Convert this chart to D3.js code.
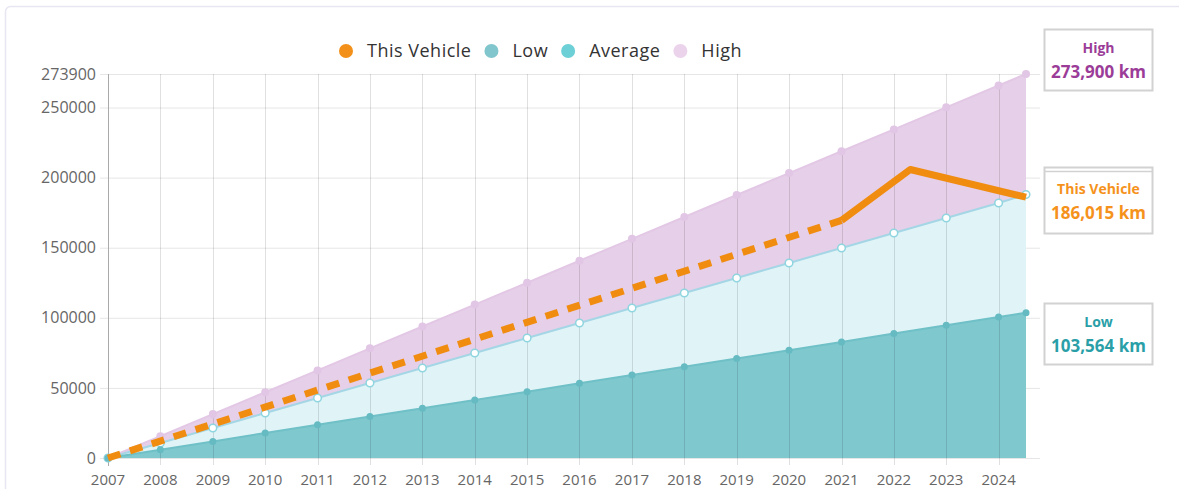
<!DOCTYPE html>
<html>
<head>
<meta charset="utf-8">
<script src="https://cdn.jsdelivr.net/npm/d3@7"></script>
<style>
    body { margin: 0; background: #fff; font-family: "Open Sans", sans-serif; }
    #chart { width: 1179px; height: 489px; }
</style>
</head>
<body>
<div id="chart"></div>
<script>

// dates of the points (last one = today)
let pointDates = ["2007-01-01", "2008-01-01", "2009-01-01", "2010-01-01", "2011-01-01", "2012-01-01",
    "2013-01-01", "2014-01-01", "2015-01-01", "2016-01-01", "2017-01-01", "2018-01-01", "2019-01-01",
    "2020-01-01", "2021-01-01", "2022-01-01", "2023-01-01", "2024-01-01", "2024-07-10"];

let lowValues = [0, 5900, 11800, 17800, 23700, 29600, 35500, 41400, 47300, 53300, 59200,
    65100, 71000, 76900, 82800, 88800, 94700, 100600, 103564];
let averageValues = [0, 10700, 21400, 32100, 42800, 53500, 64200, 74900, 85600, 96300, 107000,
    117700, 128400, 139100, 149800, 160500, 171200, 181900, 187900];
let highValues = [0, 15600, 31300, 46900, 62500, 78200, 93800, 109400, 125000, 140700, 156300,
    171900, 187600, 203200, 218800, 234400, 250100, 265700, 273900];

// this vehicle: estimated part (dashed) and recorded part (solid)
let vehicleDashedDates = ["2007-01-01", "2021-01-01"];
let vehicleDashedValues = [0, 169500];
let vehicleSolidDates = ["2021-01-01", "2022-04-25", "2024-07-10"];
let vehicleSolidValues = [169500, 205800, 186015];

let yTicks = [0, 50000, 100000, 150000, 200000, 250000, 273900];
let legendLabels = ["This Vehicle", "Low", "Average", "High"];
let legendColors = ["#f39019", "#80c6cc", "#6dd0d6", "#ecd3ec"];

let boxTitles = ["High", "This Vehicle", "Low"];
let boxValues = [273900, 186015, 103564];
let boxColors = ["#9b3d98", "#f5921c", "#2a9fa8"];


class MileageVis {

    constructor(parentElement) {
        this.parentElement = parentElement;
        this.initVis();
    }

    initVis() {
        let vis = this;
        let parseDate = d3.timeParse("%Y-%m-%d");

        vis.width = 1179;
        vis.height = 489;

        vis.svg = d3.select("#" + vis.parentElement).append("svg")
            .attr("width", vis.width)
            .attr("height", vis.height);

        // card outline
        vis.svg.append("rect")
            .attr("x", 5.5).attr("y", 6.5)
            .attr("width", 1200).attr("height", 520)
            .attr("rx", 5)
            .attr("fill", "white")
            .attr("stroke", "#e7e7f3")
            .attr("stroke-width", 1.5);

        vis.x = d3.scaleTime()
            .domain([parseDate(pointDates[0]), parseDate(pointDates[pointDates.length - 1])])
            .range([108, 1026]);

        vis.y = d3.scaleLinear()
            .domain([0, 273900])
            .range([458, 74]);

        vis.points = pointDates.map((d, i) => ({
            date: parseDate(d), low: lowValues[i], avg: averageValues[i], high: highValues[i]
        }));

        // horizontal grid (behind the areas)
        vis.svg.append("g")
            .selectAll("line")
            .data(yTicks)
            .enter().append("line")
            .attr("x1", 100).attr("x2", 1040)
            .attr("y1", d => vis.y(d) + 0.5).attr("y2", d => vis.y(d) + 0.5)
            .attr("stroke", "#e6e6e6");

        // areas
        let area = key => d3.area()
            .x(d => vis.x(d.date))
            .y0(vis.y(0))
            .y1(d => vis.y(d[key]));
        let line = key => d3.line()
            .x(d => vis.x(d.date))
            .y(d => vis.y(d[key]));

        vis.svg.append("path").attr("d", area("high")(vis.points)).attr("fill", "#e6cfe8");
        vis.svg.append("path").attr("d", line("high")(vis.points))
            .attr("fill", "none").attr("stroke", "#e3c8e6").attr("stroke-width", 2);
        vis.svg.append("path").attr("d", area("avg")(vis.points)).attr("fill", "#e0f4f7");
        vis.svg.append("path").attr("d", line("avg")(vis.points))
            .attr("fill", "none").attr("stroke", "#a4d6e6").attr("stroke-width", 2);
        vis.svg.append("path").attr("d", area("low")(vis.points)).attr("fill", "#7fc8ce");
        vis.svg.append("path").attr("d", line("low")(vis.points))
            .attr("fill", "none").attr("stroke", "#70c0c7").attr("stroke-width", 2);

        // vertical grid (over the areas)
        vis.yearTicks = vis.x.ticks(d3.timeYear.every(1));
        vis.svg.append("g")
            .selectAll("line")
            .data(vis.yearTicks)
            .enter().append("line")
            .attr("x1", d => Math.round(vis.x(d)) + 0.5).attr("x2", d => Math.round(vis.x(d)) + 0.5)
            .attr("y1", 74).attr("y2", 465)
            .attr("stroke", "rgba(0,0,0,0.12)");

        // y axis line
        vis.svg.append("line")
            .attr("x1", 108.5).attr("x2", 108.5)
            .attr("y1", 74).attr("y2", 466)
            .attr("stroke", "#aaa");

        // markers
        vis.svg.append("g").selectAll("circle")
            .data(vis.points).enter().append("circle")
            .attr("cx", d => vis.x(d.date)).attr("cy", d => vis.y(d.high))
            .attr("r", 4).attr("fill", "#e2c6e5");
        vis.svg.append("g").selectAll("circle")
            .data(vis.points).enter().append("circle")
            .attr("cx", d => vis.x(d.date)).attr("cy", d => vis.y(d.avg))
            .attr("r", 3.8).attr("fill", "white")
            .attr("stroke", "#8ed5df").attr("stroke-width", 1.5);
        vis.svg.append("g").selectAll("circle")
            .data(vis.points).enter().append("circle")
            .attr("cx", d => vis.x(d.date)).attr("cy", d => vis.y(d.low))
            .attr("r", 3.5).attr("fill", "#66bbc3");

        // this vehicle
        let vLine = d3.line()
            .x(d => vis.x(d.date))
            .y(d => vis.y(d.value));
        let dashed = vehicleDashedDates.map((d, i) => ({date: parseDate(d), value: vehicleDashedValues[i]}));
        let solid = vehicleSolidDates.map((d, i) => ({date: parseDate(d), value: vehicleSolidValues[i]}));

        vis.svg.append("path")
            .attr("d", vLine(dashed))
            .attr("fill", "none")
            .attr("stroke", "#f08c10")
            .attr("stroke-width", 7)
            .attr("stroke-dasharray", "13,10");
        vis.svg.append("path")
            .attr("d", vLine(solid))
            .attr("fill", "none")
            .attr("stroke", "#f08c10")
            .attr("stroke-width", 7)
            .attr("stroke-linejoin", "round");

        // axis labels
        vis.svg.append("g").selectAll("text")
            .data(yTicks).enter().append("text")
            .attr("x", 96)
            .attr("y", d => vis.y(d))
            .attr("dy", "0.35em")
            .attr("text-anchor", "end")
            .attr("font-size", 16)
            .attr("fill", "#666")
            .text(d => d);

        vis.svg.append("g").selectAll("text")
            .data(vis.yearTicks).enter().append("text")
            .attr("x", d => vis.x(d))
            .attr("y", 480)
            .attr("dy", "0.35em")
            .attr("text-anchor", "middle")
            .attr("font-size", 15)
            .attr("fill", "#666")
            .text(d => d3.timeFormat("%Y")(d));

        vis.drawLegend();
        vis.drawBoxes();
    }

    drawLegend() {
        let vis = this;
        let legend = vis.svg.append("g").attr("class", "legend");

        let items = legend.selectAll("g")
            .data(legendLabels).enter().append("g");

        items.append("circle")
            .attr("r", 7)
            .attr("cx", 7)
            .attr("cy", 0)
            .attr("fill", (d, i) => legendColors[i]);

        items.append("text")
            .attr("x", 28)
            .attr("y", 0)
            .attr("dy", "0.35em")
            .attr("font-size", 18)
            .attr("letter-spacing", 0.5)
            .attr("fill", "#333")
            .text(d => d);

        // lay the items out side by side and centre them
        let offset = 0;
        let widths = [];
        items.each(function () {
            let w = 28 + d3.select(this).select("text").node().getComputedTextLength();
            widths.push(offset);
            offset += w + 13;
        });
        let total = offset - 13;
        let start = 540.5 - total / 2;
        items.attr("transform", (d, i) => `translate(${start + widths[i]}, 51)`);
    }

    drawBoxes() {
        let vis = this;
        let boxTop = [29, 167, 303];
        let boxHeight = [61, 66, 61];
        let fmt = d3.format(",");

        let boxes = vis.svg.append("g").selectAll("g")
            .data(boxTitles).enter().append("g")
            .attr("transform", (d, i) => `translate(1044, ${boxTop[i]})`);

        boxes.append("rect")
            .attr("x", 0.5).attr("y", 0.5)
            .attr("width", 108).attr("height", (d, i) => boxHeight[i])
            .attr("fill", "white")
            .attr("stroke", "#d2d2d2")
            .attr("stroke-width", 2);

        // second top line of the middle box
        boxes.filter((d, i) => i === 1).append("line")
            .attr("x1", 0).attr("x2", 109)
            .attr("y1", 4.5).attr("y2", 4.5)
            .attr("stroke", "#d2d2d2")
            .attr("stroke-width", 1.5);

        boxes.append("text")
            .attr("x", 54.5)
            .attr("y", (d, i) => boxHeight[i] / 2 - 11)
            .attr("dy", "0.35em")
            .attr("text-anchor", "middle")
            .attr("font-size", 14)
            .attr("font-weight", "bold")
            .attr("fill", (d, i) => boxColors[i])
            .text(d => d);

        boxes.append("text")
            .attr("x", 54.5)
            .attr("y", (d, i) => boxHeight[i] / 2 + 13)
            .attr("dy", "0.35em")
            .attr("text-anchor", "middle")
            .attr("font-size", 17)
            .attr("font-weight", "bold")
            .attr("fill", (d, i) => boxColors[i])
            .text((d, i) => fmt(boxValues[i]) + " km");
    }
}

new MileageVis("chart");

</script>
</body>
</html>
